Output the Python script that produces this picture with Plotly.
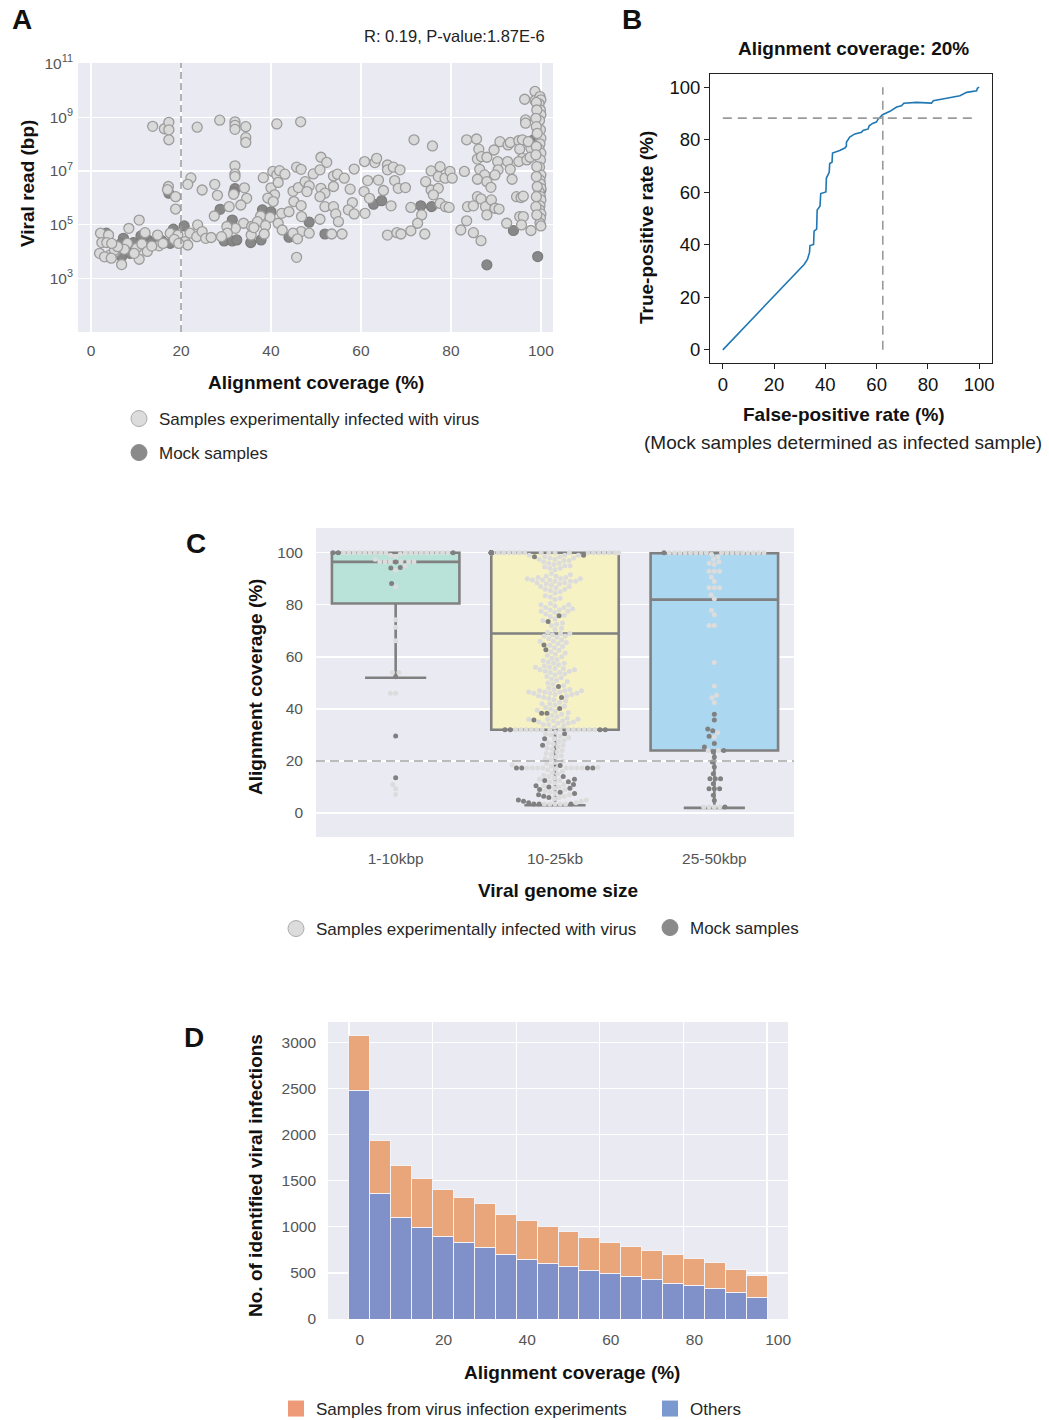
import numpy as np
import plotly.graph_objects as go

W, H = 1049, 1420
def px(x): return x / W
def py(y): return 1 - y / H

FONT = "Liberation Sans, Arial, sans-serif"
BG = "#eaeaf2"

# ---------------- Panel A data (coverage %, log10 viral read bp) ----------------
inf_cov = [13.7, 16.3, 17.3, 17.3, 17.3, 23.6, 28.6, 32.0, 32.0, 32.0, 34.4, 34.4, 34.4, 41.3, 46.6,
           32.0, 32.0, 32.0, 31.7, 17.2, 17.0, 18.8, 18.8, 22.2, 21.5, 24.7, 27.5, 28.1, 27.4, 30.7,
           34.1, 34.6, 33.3, 33.9, 32.1, 30.2, 30.3, 35.6, 35.7, 38.3, 40.4, 41.3, 41.9, 43.1, 40.0,
           41.6, 40.8, 39.3, 40.5, 37.7, 39.8, 37.0, 38.8, 36.2, 38.5, 42.4, 41.6, 44.0, 42.5, 45.1,
           44.9, 45.7, 46.7, 46.1, 46.7, 47.6, 48.5, 48.0, 46.8, 46.7, 44.9, 45.9, 48.5, 45.7, 49.4,
           10.7, 8.4, 2.1, 3.9, 2.4, 3.5, 1.9, 4.2, 5.3, 6.8, 10.7, 8.1, 5.2, 7.4, 10.1,
           9.6, 12.0, 11.3, 14.8, 15.1, 17.6, 19.3, 20.9, 21.5, 22.0, 23.7, 23.5, 24.7, 25.5, 26.7,
           29.0, 5.9, 4.6, 3.0, 4.5, 12.5, 13.5, 16.0, 18.5, 19.5,
           51.1, 52.4, 50.9, 53.9, 54.8, 56.3, 53.9, 51.1, 52.0, 50.9, 52.0, 53.9, 54.4, 55.0, 50.9,
           53.5, 55.8, 57.6, 58.5, 58.1, 57.2, 58.5, 60.9, 60.8, 63.1, 63.5, 61.5, 63.9, 60.7, 61.9,
           65.0, 66.7, 65.9, 65.9, 67.2, 68.7, 67.5, 68.3, 69.9, 65.9, 68.0, 68.9, 71.8, 75.9, 71.1,
           73.5, 72.6, 71.1, 74.2, 74.4, 75.6, 77.6, 77.2, 78.7, 79.8, 80.3, 75.6, 77.2, 76.1, 77.6,
           78.8, 79.6, 83.0, 83.5, 85.7, 86.2, 85.9, 86.8, 88.0, 86.4, 87.5, 85.9, 88.0, 88.9, 85.9,
           86.7, 87.7, 89.0, 83.7, 85.0, 88.0, 89.8, 90.7, 83.5, 82.2, 85.0, 86.7, 89.6, 90.9, 90.4,
           90.5, 89.8, 92.7, 93.2, 92.6, 93.2, 93.6, 95.1, 95.9, 95.3, 95.9, 95.1, 96.9, 96.6, 96.6,
           96.4, 98.7, 98.7, 94.6, 95.6, 96.1, 92.4, 95.3, 96.1, 95.7, 97.8, 97.8, 97.6, 97.2,
           99.8, 100.0, 99.6, 99.9, 100.0, 99.7, 99.9, 100.0, 99.8, 99.6, 100.0, 99.9, 99.7, 100.0,
           99.8, 99.9, 100.0, 99.6, 99.9, 100.0, 99.8, 99.7, 100.0, 99.9, 99.8, 100.0,
           99.0, 99.1, 98.9, 99.0, 99.2, 99.0, 98.9, 99.1, 99.0, 99.2, 99.0, 98.9, 99.1]
inf_log10_reads = [8.66, 8.57, 8.81, 8.53, 8.16, 8.63, 8.89, 8.83, 8.70, 8.55, 8.65, 8.24, 8.06, 8.75, 8.83,
                   7.19, 6.89, 6.79, 6.13, 6.42, 6.30, 6.04, 5.58, 6.74, 6.50, 6.29, 6.50, 6.09, 5.32, 5.67,
                   6.37, 5.98, 5.73, 5.05, 4.86, 4.93, 4.68, 4.61, 4.93, 6.75, 6.98, 6.85, 7.01, 6.88, 6.37,
                   6.57, 6.11, 5.99, 5.86, 5.32, 5.27, 5.11, 4.96, 4.89, 4.65, 5.42, 5.05, 5.48, 4.80, 5.86,
                   6.24, 7.14, 7.06, 6.38, 5.71, 6.60, 6.44, 6.23, 5.30, 4.74, 4.68, 4.47, 4.68, 3.78, 6.89,
                   5.17, 4.86, 4.68, 4.61, 4.33, 4.33, 3.93, 3.87, 3.99, 3.51, 3.71, 4.30, 4.05, 4.08, 4.12,
                   3.93, 4.70, 4.28, 4.61, 4.21, 4.68, 4.61, 4.37, 4.24, 4.68, 4.99, 4.55, 4.74, 4.49, 4.52,
                   4.55, 4.18, 4.30, 3.80, 3.75, 4.00, 4.20, 4.30, 4.45, 4.30,
                   7.51, 7.32, 7.04, 6.81, 6.88, 6.73, 6.42, 6.35, 6.17, 6.04, 5.67, 5.67, 5.40, 5.11, 5.20,
                   4.65, 4.65, 6.32, 7.07, 5.82, 5.55, 5.40, 5.42, 7.35, 7.31, 7.47, 6.64, 6.66, 6.23, 5.98,
                   6.27, 5.70, 7.22, 7.04, 7.14, 7.04, 6.64, 6.35, 6.38, 4.61, 4.70, 4.65, 8.16, 7.93, 5.64,
                   5.36, 5.05, 4.77, 4.65, 6.60, 7.00, 7.16, 6.79, 6.73, 6.98, 6.73, 6.29, 6.35, 6.11, 5.79,
                   5.67, 5.64, 6.98, 8.16, 8.19, 7.81, 7.44, 7.53, 7.51, 7.06, 6.85, 6.69, 6.60, 6.39, 6.04,
                   5.96, 5.67, 5.92, 5.67, 5.70, 5.36, 5.61, 5.58, 5.14, 4.80, 4.70, 4.40, 7.78, 8.09, 7.35,
                   7.04, 6.85, 7.97, 8.06, 7.35, 7.06, 6.69, 8.13, 8.16, 7.81, 7.47, 7.35, 7.41, 8.90, 8.78,
                   9.67, 9.96, 9.62, 6.04, 6.01, 6.06, 5.05, 5.30, 5.30, 4.99, 4.78, 7.84, 7.51, 8.09,
                   9.77, 9.65, 9.50, 9.27, 9.09, 8.88, 8.53, 8.22, 8.01, 7.81, 7.66, 7.41, 7.14, 6.85,
                   6.66, 6.52, 6.35, 6.23, 6.04, 5.92, 5.70, 5.55, 5.40, 5.24, 5.05, 4.95,
                   9.55, 9.27, 8.96, 8.65, 8.40, 7.91, 7.60, 7.16, 6.79, 6.42, 6.04, 5.67, 5.36]
mock_cov = [32.0, 31.8, 17.3, 28.7, 31.4, 29.6, 31.4, 32.4, 35.5, 37.8, 38.1, 40.0, 44.0, 48.5,
            3.4, 6.8, 8.7, 7.2, 6.7, 9.4, 11.1, 12.6, 13.3, 15.7, 17.6, 18.3, 20.7,
            52.0, 62.8, 64.6, 73.3, 75.7, 88.0, 93.9, 99.3, 98.4, 100.0, 99.6]
mock_log10_reads = [6.34, 6.20, 6.17, 5.57, 5.17, 4.39, 4.39, 4.43, 4.33, 4.43, 5.55, 5.48, 4.53, 5.09,
                    4.68, 3.81, 3.93, 4.49, 4.30, 4.33, 4.58, 4.43, 4.33, 4.40, 4.30, 4.83, 4.95,
                    4.65, 5.76, 5.89, 5.70, 5.67, 3.50, 4.78, 3.81, 8.16, 6.29, 8.18]

# ---------------- Panel B data (ROC) ----------------
fpr = [0, 31.7, 33.0, 33.8, 34.0, 35.4, 35.6, 36.6, 36.8, 37.9, 38.2, 40.2, 40.4, 41.5, 41.7,
       42.6, 42.8, 44.3, 45.6, 47.6, 48.2, 48.2, 49.5, 51.5, 54.1, 54.7, 56.7, 57.1, 58.6, 59.9,
       60.6, 62.3, 65.2, 67.8, 69.7, 70.6, 75.6, 81.4, 82.1, 87.3, 92.5, 95.1, 99.0, 99.3, 100]
tpr = [0, 32.5, 34.4, 37.0, 39.7, 40.1, 45.2, 46.0, 53.2, 54.7, 59.5, 60.1, 65.4, 67.6, 70.9,
       71.4, 74.9, 75.6, 75.9, 76.8, 77.5, 79.0, 81.0, 82.2, 82.8, 83.5, 84.1, 85.3, 86.3, 86.7,
       87.8, 89.5, 90.8, 92.4, 92.9, 93.9, 94.2, 93.9, 94.8, 95.8, 96.7, 98.0, 98.6, 99.6, 100]
cut_fpr, cut_tpr = 62.4, 88.2

# ---------------- Panel C data ----------------
size_labels = ["1-10kbp", "10-25kb", "25-50kbp"]
box_q1 = [80.5, 32.0, 24.0]
box_median = [96.5, 69.0, 82.0]
box_q3 = [100.0, 100.0, 99.8]
box_low = [52.0, 3.0, 2.0]
box_high = [100.0, 100.0, 100.0]
box_colors = ["#b9e3d8", "#f6f2c3", "#acd7f0"]

c1_inf = [100, 100, 100, 100, 100, 100, 100, 100, 100, 100, 100, 100, 100, 100, 100, 100, 100, 100,
          99.5, 99, 98.5, 97.5, 96.5, 96.5, 96.5, 96.5, 96.5, 96.5, 94.9, 93.3, 86.9, 74.3, 71.4, 66.2,
          54, 54, 46, 46, 11, 9.3, 7.1]
c1_mock = [100, 100, 100, 96.4, 94.1, 94.3, 88.2, 52.4, 29.6, 13.6]
c2_inf = [100, 100, 100, 100, 100, 100, 100, 100, 100, 100, 100, 100, 100, 100, 100, 100, 100, 100, 100, 100,
          100, 100, 100, 100, 100, 100, 100, 100,
          99, 99, 99, 98.5, 98.5, 98, 98, 97.5, 97.5, 97, 97, 96.5, 96, 96, 95.5, 95, 95, 94.5, 94, 94, 93.5,
          92, 91.5, 91, 91, 90.5, 90.5, 90, 90, 90, 89.5, 89.5, 89.5, 89, 89, 89, 88.5, 88.5, 88, 88,
          87.5, 87, 87, 86.5, 86, 86, 85.5, 85, 84.5, 83.5, 83, 82.5, 82,
          80.5, 80, 80, 79.5, 79, 79, 78.5, 78, 78, 77.5, 77.5, 77, 76.5, 76, 75.5,
          74.5, 74, 73, 72.5, 72, 71, 70.5,
          69.5, 69, 69, 68.5, 68, 68, 67.5, 67, 66.5, 66, 66, 65.5, 65, 64.5, 64, 63.5,
          62.5, 62, 61.5, 61, 60.5, 60, 59.5, 59, 58.5, 58, 57.5, 57.5, 57, 56.5, 56, 56, 55.5, 55.5, 55,
          55, 54.5, 54.5, 54, 54, 53.5, 53, 52.5, 52, 51.5, 51,
          50.5, 50, 49.5, 49, 48, 47.5, 47.5, 47, 47, 47, 46.5, 46.5, 46.5, 46, 46, 46, 45.5, 45.5, 45,
          45, 44.5, 44, 43.5, 43, 42.5, 42, 42, 41.5, 41, 40.5, 40, 39.5, 39, 38.5,
          38, 37.5, 37, 36.5, 36, 36, 36, 35.5, 35.5, 35, 35, 34.5, 34.5, 34, 34, 33.5, 33,
          32, 32, 32, 32, 32, 32, 32, 32, 32, 32, 32, 32, 32, 32,
          31, 30.5, 30, 29.5, 29, 28.5, 28, 27.5, 27, 26.5, 26, 25.5, 25, 24.5, 24, 23.5, 23, 22.5,
          22, 21.5, 21, 20.5, 20,
          19.5, 19, 18.5, 18, 17.5, 17.3, 17.3, 17.3, 17.3, 17.3, 17.3, 17.3, 17.3, 17, 16.5, 16, 15.5, 15,
          14.5, 14, 13.5, 13, 12.5, 12, 11.5, 11, 10.5, 10, 9.5, 9, 8.5, 8, 7.5, 7, 6.5, 6, 5.5, 5,
          4.5, 4, 3.5, 3.5, 3.5, 3.5, 3.5]
c2_mock = [100, 100, 100, 100, 100, 100, 100, 100, 100, 99, 98.5, 75.8, 73.6, 64.6, 62.7, 48.6, 44.4,
           40.2, 38.3, 38.3, 35.7, 32, 32, 32, 32, 30.5, 28.5, 26, 18.3, 17.3, 17.3, 17.3, 17.3,
           14, 13, 12.5, 12, 11, 10.5, 10, 9.5, 9, 8, 7.5, 7, 6.5, 6, 5, 4.5, 4,
           3.5, 3.5, 3.5]
c3_inf = [100, 100, 100, 100, 100, 100, 100, 100, 100, 100, 100, 100, 100, 100, 100, 100, 100,
          99.4, 98.5, 97.5, 96.5, 96, 95.5, 92.9, 92.9, 92.9, 90.7, 89, 86.5, 86.5, 86.5, 83.9, 82.3,
          77.9, 76.2, 72, 72, 57.8, 48.8, 45.3, 44.3, 42.5, 30.8, 29.2, 24, 24, 2.3, 2.3, 2.3, 2.3]
c3_mock = [100, 38, 35.7, 32.3, 31.6, 29.5, 26.7, 25.4, 24, 23.5, 21.5, 19.6, 17.7, 15.1, 13.2, 13.2,
           13.2, 11.3, 9.3, 9.3, 9.3, 6.8, 4.8, 2.3]

# ---------------- Panel D data ----------------
bin_start = [0, 5, 10, 15, 20, 25, 30, 35, 40, 45, 50, 55, 60, 65, 70, 75, 80, 85, 90, 95]
others = [2479, 1364, 1104, 992, 894, 829, 778, 695, 648, 604, 575, 528, 489, 460, 431, 387, 362, 333, 290, 237]
totals = [3078, 1940, 1661, 1520, 1401, 1314, 1249, 1129, 1064, 999, 948, 879, 829, 789, 746, 695, 651, 608, 539, 470]
experiments = [t - o for t, o in zip(totals, others)]

LIGHT = "#d9d9d9"; LIGHT_EDGE = "#9c9c9c"
DARK = "#888888"; DARK_EDGE = "#7c7c7c"

fig = go.Figure()

# ---- Panel A traces
fig.add_trace(go.Scatter(x=mock_cov, y=np.power(10.0, mock_log10_reads), mode="markers",
                         marker=dict(size=10, color=DARK, line=dict(color=DARK_EDGE, width=1.2)),
                         showlegend=False, xaxis="x", yaxis="y", hoverinfo="skip"))
fig.add_trace(go.Scatter(x=inf_cov, y=np.power(10.0, inf_log10_reads), mode="markers",
                         marker=dict(size=10, color=LIGHT, line=dict(color=LIGHT_EDGE, width=1.3)),
                         showlegend=False, xaxis="x", yaxis="y", hoverinfo="skip"))
fig.add_trace(go.Scatter(x=[None], y=[None], mode="markers", name="Samples experimentally infected with virus",
                         marker=dict(size=18, color="#dcdcdc", line=dict(color="#ababab", width=1)),
                         legend="legend", xaxis="x", yaxis="y"))
fig.add_trace(go.Scatter(x=[None], y=[None], mode="markers", name="Mock samples",
                         marker=dict(size=18, color="#8a8a8a", line=dict(color="#8a8a8a", width=1)),
                         legend="legend4", xaxis="x", yaxis="y"))

# ---- Panel B traces
fig.add_trace(go.Scatter(x=fpr, y=tpr, mode="lines", line=dict(color="#1f77b4", width=1.6),
                         showlegend=False, xaxis="x2", yaxis="y2", hoverinfo="skip"))

# ---- Panel C traces
for i in range(3):
    fig.add_trace(go.Box(x=[i], q1=[box_q1[i]], median=[box_median[i]], q3=[box_q3[i]],
                         lowerfence=[box_low[i]], upperfence=[box_high[i]],
                         fillcolor=box_colors[i], line=dict(color="#808080", width=2.6),
                         width=0.8, whiskerwidth=0.48, boxpoints=False, showlegend=False,
                         xaxis="x3", yaxis="y3", hoverinfo="skip"))

def swarm(values, d=5.3, xscale=478 / 3.0, yscale=309 / 118.7, maxhalf=0.4):
    order = sorted(range(len(values)), key=lambda k: values[k])
    placed = []
    out = [0.0] * len(values)
    lim = maxhalf * xscale
    for k in order:
        yv = values[k] * yscale
        neigh = [(xp, yp) for xp, yp in placed if abs(yp - yv) < d]
        cands = [0.0]
        for xp, yp in neigh:
            dx = (d * d - (yv - yp) ** 2) ** 0.5
            cands.extend([xp + dx, xp - dx])
        cands.sort(key=lambda c: (abs(c), c))
        chosen = cands[-1]
        for c in cands:
            if all((c - xp) ** 2 + (yv - yp) ** 2 >= d * d - 1e-6 for xp, yp in neigh):
                chosen = c
                break
        chosen = max(-lim, min(lim, chosen))
        placed.append((chosen, yv))
        out[k] = chosen / xscale
    return out

groups = [(c1_inf, c1_mock), (c2_inf, c2_mock), (c3_inf, c3_mock)]
for i, (vi, vm) in enumerate(groups):
    allv = list(vi) + list(vm)
    offs = swarm(allv)
    xi = [i + o for o in offs[:len(vi)]]
    xm = [i + o for o in offs[len(vi):]]
    fig.add_trace(go.Scatter(x=xi, y=vi, mode="markers", marker=dict(size=5, color="#dcdcdc"),
                             showlegend=False, xaxis="x3", yaxis="y3", hoverinfo="skip"))
    fig.add_trace(go.Scatter(x=xm, y=vm, mode="markers", marker=dict(size=5, color="#808080"),
                             showlegend=False, xaxis="x3", yaxis="y3", hoverinfo="skip"))

fig.add_trace(go.Scatter(x=[None], y=[None], mode="markers", name="Samples experimentally infected with virus",
                         marker=dict(size=18, color="#dcdcdc", line=dict(color="#ababab", width=1)),
                         legend="legend2", xaxis="x3", yaxis="y3"))
fig.add_trace(go.Scatter(x=[None], y=[None], mode="markers", name="Mock samples",
                         marker=dict(size=18, color="#8a8a8a", line=dict(color="#8a8a8a", width=1)),
                         legend="legend5", xaxis="x3", yaxis="y3"))

# ---- Panel D traces
BLUE = "#7f91c8"; ORANGE = "#e8a67a"
fig.add_trace(go.Bar(x=bin_start, y=others, offset=0, width=5,
                     marker=dict(color=BLUE, line=dict(color="#f2f2f7", width=1)),
                     showlegend=False, xaxis="x4", yaxis="y4", hoverinfo="skip"))
fig.add_trace(go.Bar(x=bin_start, y=experiments, offset=0, width=5,
                     marker=dict(color=ORANGE, line=dict(color="#f2f2f7", width=1)),
                     showlegend=False, xaxis="x4", yaxis="y4", hoverinfo="skip"))
fig.add_trace(go.Scatter(x=[None], y=[None], mode="markers", name="Samples from virus infection experiments",
                         marker=dict(size=18, symbol="square", color="#ee9a78"),
                         legend="legend3", xaxis="x4", yaxis="y4"))
fig.add_trace(go.Scatter(x=[None], y=[None], mode="markers", name="Others",
                         marker=dict(size=18, symbol="square", color="#7b98cf"),
                         legend="legend6", xaxis="x4", yaxis="y4"))

tickfont_g = dict(family=FONT, size=15.5, color="#555555")
grid = dict(showgrid=True, gridcolor="white", gridwidth=1.3, zeroline=False, showline=False, ticks="",
            automargin=False)

def leg(x, y):
    return dict(x=px(x), y=py(y), xref="container", yref="container", xanchor="left", yanchor="middle",
                bgcolor="rgba(0,0,0,0)", borderwidth=0,
                font=dict(family=FONT, size=17, color="#262626"), itemclick=False)

layout = dict(
    width=W, height=H, margin=dict(l=0, r=0, t=0, b=0, autoexpand=False),
    paper_bgcolor="white", plot_bgcolor="white",
    font=dict(family=FONT, color="#222222"),
    barmode="stack", bargap=0,
    xaxis=dict(domain=[px(78), px(553)], range=[-2.9, 102.7], tickvals=[0, 20, 40, 60, 80, 100],
               tickfont=tickfont_g, ticklabelstandoff=7, anchor="y", **grid),
    yaxis=dict(domain=[py(332), py(63)], type="log", range=[1.0, 11.02],
               tickvals=[1e3, 1e5, 1e7, 1e9, 1e11],
               ticktext=["10<sup>3</sup>", "10<sup>5</sup>", "10<sup>7</sup>", "10<sup>9</sup>", "10<sup>11</sup>"],
               tickfont=tickfont_g, ticklabelstandoff=4, anchor="x", **grid),
    xaxis2=dict(domain=[px(710), px(992)], range=[-5, 105], tickvals=[0, 20, 40, 60, 80, 100],
                showgrid=False, zeroline=False, showline=True, linecolor="#222", linewidth=1, mirror=True,
                ticks="outside", ticklen=5, tickcolor="#222", automargin=False,
                tickfont=dict(family=FONT, size=18.5, color="#111"), anchor="y2"),
    yaxis2=dict(domain=[py(363), py(74)], range=[-5, 105], tickvals=[0, 20, 40, 60, 80, 100],
                showgrid=False, zeroline=False, showline=True, linecolor="#222", linewidth=1, mirror=True,
                ticks="outside", ticklen=5, tickcolor="#222", automargin=False,
                tickfont=dict(family=FONT, size=18.5, color="#111"), anchor="x2"),
    xaxis3=dict(domain=[px(316), px(794)], range=[-0.5, 2.5], tickvals=[0, 1, 2], ticktext=size_labels,
                showgrid=False, zeroline=False, showline=False, ticks="", tickfont=tickfont_g,
                ticklabelstandoff=10, automargin=False, anchor="y3"),
    yaxis3=dict(domain=[py(837), py(528)], range=[-9.2, 109.5], tickvals=[0, 20, 40, 60, 80, 100],
                tickfont=tickfont_g, ticklabelstandoff=12, anchor="x3", **grid),
    xaxis4=dict(domain=[px(328), px(788)], range=[-5, 105], tickvals=[0, 20, 40, 60, 80, 100],
                ticklabelshift=11, ticklabelstandoff=9, tickfont=tickfont_g, anchor="y4", **grid),
    yaxis4=dict(domain=[py(1319), py(1022)], range=[0, 3222], tickvals=[0, 500, 1000, 1500, 2000, 2500, 3000],
                tickfont=tickfont_g, ticklabelstandoff=11, anchor="x4", **grid),
    legend=leg(119, 419), legend4=leg(119, 453),
    legend2=leg(276, 929), legend5=leg(650, 928),
    legend3=leg(276, 1409), legend6=leg(650, 1409),
)
fig.update_layout(**layout)

# background panels and reference lines
for xr, yr in [("x", "y"), ("x3", "y3"), ("x4", "y4")]:
    fig.add_shape(type="rect", xref=f"{xr} domain", yref=f"{yr} domain", x0=0, x1=1, y0=0, y1=1,
                  fillcolor=BG, line=dict(width=0), layer="below")
fig.add_shape(type="line", xref="x", yref="y domain", x0=20, x1=20, y0=0, y1=1,
              line=dict(color="#9a9a9a", width=1.5, dash="7px,4px"))
fig.add_shape(type="line", xref="x2", yref="y2", x0=cut_fpr, x1=cut_fpr, y0=0, y1=100,
              line=dict(color="#9a9a9a", width=1.6, dash="9px,6px"))
fig.add_shape(type="line", xref="x2", yref="y2", x0=0, x1=99, y0=cut_tpr, y1=cut_tpr,
              line=dict(color="#9a9a9a", width=1.6, dash="9px,6px"))
fig.add_shape(type="line", xref="x3 domain", yref="y3", x0=0, x1=1, y0=20, y1=20,
              line=dict(color="#a5a5a5", width=1.5, dash="9px,5px"))

def ann(text, x, y, size, bold=False, angle=0, xanchor="center", color="#111111"):
    return dict(text=f"<b>{text}</b>" if bold else text, x=px(x), y=py(y), xref="paper", yref="paper",
                xanchor=xanchor, yanchor="middle", showarrow=False, textangle=angle,
                font=dict(family=FONT, size=size, color=color))

annotations = [
    ann("A", 22, 20, 28, True), ann("B", 632, 20, 28, True),
    ann("C", 196, 543, 28, True), ann("D", 194, 1037, 28, True),
    ann("R: 0.19, P-value:1.87E-6", 547, 36, 16.5, xanchor="right", color="#222"),
    ann("Viral read (bp)", 27, 184, 19, True, -90),
    ann("Alignment coverage (%)", 316, 383, 19, True),
    ann("Alignment coverage: 20%", 853, 49, 19, True),
    ann("True-positive rate (%)", 646, 228, 19, True, -90),
    ann("False-positive rate (%)", 844, 415, 19, True),
    ann("(Mock samples determined as infected sample)", 843, 443, 19, color="#222"),
    ann("Alignment coverage (%)", 255, 687, 19, True, -90),
    ann("Viral genome size", 558, 890, 19, True),
    ann("No. of identified viral infections", 255, 1176, 19, True, -90),
    ann("Alignment coverage (%)", 572, 1372, 19, True),
]
fig.update_layout(annotations=annotations)

pin_js = """
document.documentElement.style.margin = '0px';
document.documentElement.style.overflow = 'hidden';
document.body.style.margin = '0px';
document.body.style.overflow = 'hidden';
"""
fig.write_html("out.html", config={"displayModeBar": False, "staticPlot": True}, post_script=pin_js)
